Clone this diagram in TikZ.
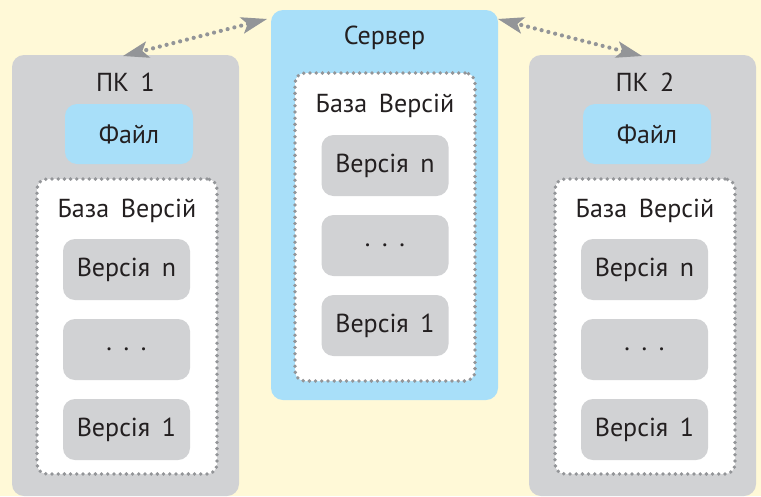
\documentclass[tikz,border=0pt]{standalone}
\usepackage{fontspec}
\setmainfont{PT Sans}
\usetikzlibrary{calc}
\definecolor{bgy}{HTML}{FFF9D7}
\definecolor{boxgray}{HTML}{D1D2D4}
\definecolor{boxblue}{HTML}{A8DFF9}
\definecolor{dotgray}{HTML}{939598}
\definecolor{txt}{HTML}{231F20}
\newcommand{\gapx}{\hspace{0.45em}}
\newcommand{\headat}[2]{%
  \fill[dotgray] (#1) -- ($(#1)!26pt!(#2)!8.5pt!90:(#1)$) -- ($(#1)!20pt!(#2)$) -- ($(#1)!26pt!(#2)!8.5pt!-90:(#1)$) -- cycle;}
\begin{document}
\begin{tikzpicture}[x=1pt,y=-1pt,
  every node/.style={font=\fontsize{26}{30}\selectfont, text=txt, inner sep=0pt},
  outerbox/.style={fill=boxgray, rounded corners=12pt, minimum width=227pt, minimum height=441pt},
  serverbox/.style={fill=boxblue, rounded corners=12pt, minimum width=227pt, minimum height=390pt},
  filebox/.style={fill=boxblue, rounded corners=12pt, minimum width=128pt, minimum height=60pt},
  dbbox/.style={fill=white, draw=dotgray, line width=3.8pt, line cap=round, dash pattern=on 0pt off 6.2pt, rounded corners=10pt, minimum width=180pt, minimum height=295pt},
  verbox/.style={fill=boxgray, rounded corners=12pt, minimum width=127pt, minimum height=61pt},
  link/.style={draw=dotgray, line width=4.2pt, line cap=round, dash pattern=on 0pt off 7pt, shorten <=17pt, shorten >=17pt}
]
\fill[bgy] (0,0) rectangle (761,496);
\useasboundingbox (0,0) rectangle (761,496);

% PC 1
\node[outerbox] (pc1) at (125.5,275.5) {};
\node (pc1l) at (125.5,82) {ПК\gapx 1};
\node[filebox] (f1) at (129,134) {Файл};
\node[dbbox] (db1) at (127,326.5) {};
\node (db1l) at (127,211) {База\gapx Версій};
\node[verbox] (v1n) at (126.5,269.5) {Версія\gapx n};
\node[verbox] (v1d) at (126.5,349.5) {.\gapx .\gapx .};
\node[verbox] (v11) at (126.5,429.5) {Версія\gapx 1};

% Server
\node[serverbox] (srv) at (384.5,205) {};
\node (srvl) at (384.5,38) {Сервер};
\node[dbbox, minimum height=308pt] (dbs) at (385,227) {};
\node (dbsl) at (385,106) {База\gapx Версій};
\node[verbox] (vsn) at (385,165.5) {Версія\gapx n};
\node[verbox] (vsd) at (385,245.5) {.\gapx .\gapx .};
\node[verbox] (vs1) at (385,325.5) {Версія\gapx 1};

% PC 2
\node[outerbox] (pc2) at (642.5,275.5) {};
\node (pc2l) at (645,82) {ПК\gapx 2};
\node[filebox] (f2) at (647,134) {Файл};
\node[dbbox] (db2) at (645,326.5) {};
\node (db2l) at (645,211) {База\gapx Версій};
\node[verbox] (v2n) at (644.5,269.5) {Версія\gapx n};
\node[verbox] (v2d) at (644.5,349.5) {.\gapx .\gapx .};
\node[verbox] (v21) at (644.5,429.5) {Версія\gapx 1};

% arrows
\coordinate (a1) at (123,56);
\coordinate (a2) at (267,19);
\coordinate (b1) at (498,19);
\coordinate (b2) at (642,56);
\draw[link] (a1) -- (a2);
\draw[link] (b1) -- (b2);
\headat{a1}{a2}
\headat{a2}{a1}
\headat{b1}{b2}
\headat{b2}{b1}
\end{tikzpicture}
\end{document}
